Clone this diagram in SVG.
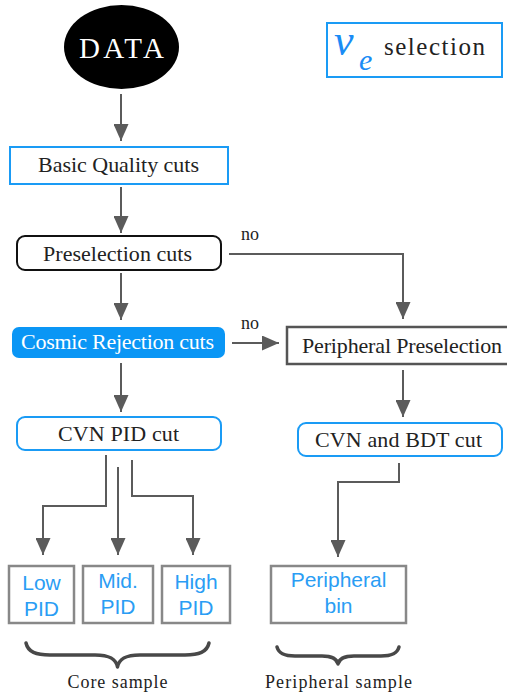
<svg xmlns="http://www.w3.org/2000/svg" width="507" height="695" viewBox="0 0 507 695">
<style>
.serif{font-family:"Liberation Serif","DejaVu Serif",serif;fill:#222;}
.sans{font-family:"Liberation Sans","Noto Sans",sans-serif;fill:#2a9df4;font-size:21px;}
.blue{fill:#fff;stroke:#1a9bf5;stroke-width:2;}
.gray{fill:#fff;stroke:#888;stroke-width:2.5;}
.conn{fill:none;stroke:#5b5b5b;stroke-width:2;}
.brace{fill:none;stroke:#484848;stroke-width:3.5;stroke-linecap:round;stroke-linejoin:round;}
</style>
<defs>
<marker id="ah" markerUnits="userSpaceOnUse" markerWidth="17" markerHeight="15" refX="17" refY="7.5" orient="auto">
<path d="M0,0 L17,7.5 L0,15 z" fill="#5b5b5b"/>
</marker>
</defs>
<rect width="507" height="695" fill="#fff"/>

<g id="title">
<rect x="327" y="23" width="175" height="54" class="blue"/>
<text x="334" y="55" font-family="Liberation Serif,serif" font-style="italic" font-size="44" fill="#1a8cf5">ν</text>
<text x="359" y="70" font-family="Liberation Serif,serif" font-style="italic" font-size="30" fill="#1a8cf5">e</text>
<text x="384" y="55" class="serif" font-size="25" textLength="101">selection</text>
</g>

<g id="data">
<ellipse cx="121.5" cy="47" rx="57.5" ry="42" fill="#000"/>
<text x="121.5" y="58" text-anchor="middle" font-family="Liberation Serif,serif" font-size="29" fill="#fff" textLength="85">DATA</text>
</g>

<g id="basic">
<rect x="10" y="147" width="218" height="37" class="blue"/>
<text x="118.5" y="172" text-anchor="middle" class="serif" font-size="22" textLength="161">Basic Quality cuts</text>
</g>

<g id="presel">
<rect x="17" y="236" width="204" height="34" rx="8" fill="#fff" stroke="#111" stroke-width="2"/>
<text x="117.5" y="261" text-anchor="middle" class="serif" font-size="22" textLength="149">Preselection cuts</text>
</g>

<g id="cosmic">
<rect x="12" y="327" width="213" height="31" rx="7" fill="#0a96f5"/>
<text x="117.5" y="349" text-anchor="middle" class="serif" font-size="22" style="fill:#fff" textLength="193">Cosmic Rejection cuts</text>
</g>

<g id="cvnpid">
<rect x="17" y="417" width="204" height="33" rx="8" class="blue"/>
<text x="118.5" y="441" text-anchor="middle" class="serif" font-size="22" textLength="121">CVN PID cut</text>
</g>

<g id="periph">
<rect x="287" y="327" width="222" height="37" fill="#fff" stroke="#555" stroke-width="2.5"/>
<text x="302" y="353" class="serif" font-size="22" textLength="200">Peripheral Preselection</text>
</g>

<g id="cvnbdt">
<rect x="298" y="423" width="204" height="33" rx="8" class="blue"/>
<text x="398.5" y="447" text-anchor="middle" class="serif" font-size="22" textLength="167">CVN and BDT cut</text>
</g>

<g id="low">
<rect x="9" y="566" width="65" height="57" class="gray"/>
<text x="41.5" y="590" text-anchor="middle" class="sans">Low</text>
<text x="41.5" y="616" text-anchor="middle" class="sans">PID</text>
</g>
<g id="mid">
<rect x="83" y="566" width="70" height="57" class="gray"/>
<text x="118" y="588" text-anchor="middle" class="sans">Mid.</text>
<text x="118" y="614" text-anchor="middle" class="sans">PID</text>
</g>
<g id="high">
<rect x="162" y="566" width="68" height="57" class="gray"/>
<text x="196" y="589" text-anchor="middle" class="sans">High</text>
<text x="196" y="615" text-anchor="middle" class="sans">PID</text>
</g>
<g id="pbin">
<rect x="271" y="566" width="135" height="57" class="gray"/>
<text x="338.5" y="587" text-anchor="middle" class="sans">Peripheral</text>
<text x="338.5" y="613" text-anchor="middle" class="sans">bin</text>
</g>

<g id="connectors">
<path d="M121,94 V141" class="conn" marker-end="url(#ah)"/>
<path d="M121,187 V233" class="conn" marker-end="url(#ah)"/>
<path d="M121,273 V320" class="conn" marker-end="url(#ah)"/>
<path d="M121,363 V412" class="conn" marker-end="url(#ah)"/>
<path d="M229,254 H403 V319" class="conn" marker-end="url(#ah)"/>
<path d="M232,343 H279" class="conn" marker-end="url(#ah)"/>
<path d="M403,370 V417" class="conn" marker-end="url(#ah)"/>
<path d="M106,455 V506 H43 V555" class="conn" marker-end="url(#ah)"/>
<path d="M118,467 V555" class="conn" marker-end="url(#ah)"/>
<path d="M132,460 V496 H193 V555" class="conn" marker-end="url(#ah)"/>
<path d="M399,463 V482 H338 V557" class="conn" marker-end="url(#ah)"/>
<text x="250" y="240" text-anchor="middle" class="serif" font-size="18">no</text>
<text x="250" y="329" text-anchor="middle" class="serif" font-size="18">no</text>
</g>

<g id="core-brace">
<path d="M26,643 C28,652 36,655 50,655 L95,655 C110,655 116,659 117.5,667 C119,659 125,655 140,655 L185,655 C199,655 207,652 209,643" class="brace"/>
<text x="117.5" y="688" text-anchor="middle" class="serif" font-size="18" textLength="100">Core sample</text>
</g>
<g id="periph-brace">
<path d="M277,647 C279,654 285,656 295,656 L322,656 C333,656 337,659 338,664 C339,659 343,656 354,656 L381,656 C391,656 397,654 399,647" class="brace"/>
<text x="338.5" y="688" text-anchor="middle" class="serif" font-size="18" textLength="147">Peripheral sample</text>
</g>
</svg>
